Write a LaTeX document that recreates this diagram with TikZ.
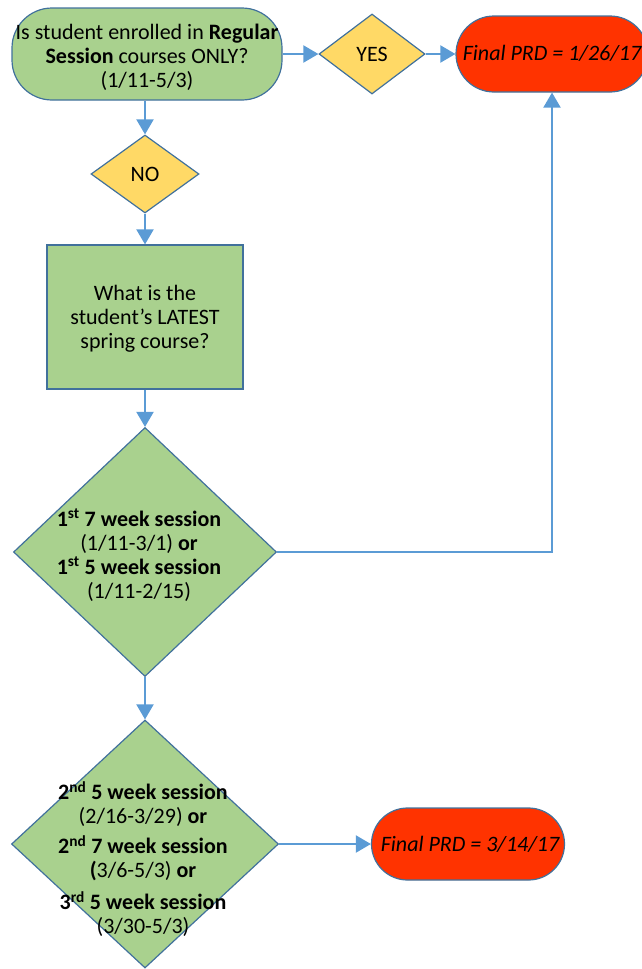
\documentclass[tikz,border=0pt]{standalone}
\usepackage{fontspec}
\setmainfont{Carlito}
\usetikzlibrary{shapes.geometric,arrows.meta}
\definecolor{gfill}{HTML}{A9D18E}
\definecolor{bline}{HTML}{41719C}
\definecolor{yfill}{HTML}{FFD966}
\definecolor{rfill}{HTML}{FF3300}
\definecolor{arr}{HTML}{5B9BD5}
\tikzset{
  base/.style={draw=bline, line width=1.2pt, inner sep=0pt},
  term/.style={base, rectangle, fill=gfill},
  redterm/.style={base, rectangle, fill=rfill},
  greenbox/.style={base, rectangle, fill=gfill},
  ydia/.style={base, diamond, fill=yfill},
  gdia/.style={base, diamond, fill=gfill},
  txt/.style={align=center, font=\fontsize{22}{24}\selectfont, inner sep=0pt},
  conn/.style={draw=arr, line width=2pt, -{Triangle[length=15pt,width=17pt]}}
}
\begin{document}
\begin{tikzpicture}[x=1pt,y=-1pt]
\useasboundingbox (0,0) rectangle (642,969);
% nodes
\node[term, rounded corners=40pt, minimum width=270pt, minimum height=92pt] (start) at (147,54) {};
\node[txt] (starttxt) at (147,57) {Is student enrolled in \textbf{Regular}\\\textbf{Session} courses ONLY?\\(1/11-5/3)};
\node[ydia, minimum width=106pt, minimum height=80pt] (yes) at (372,54) {};
\node[txt] (yestxt) at (372,54) {YES};
\node[redterm, rounded corners=38pt, minimum width=192pt, minimum height=76pt] (r1) at (552,54) {};
\node[txt, font=\fontsize{22}{24}\selectfont\itshape] (r1txt) at (552,53) {Final PRD = 1/26/17};
\node[ydia, minimum width=108pt, minimum height=78pt] (no) at (145,174) {};
\node[txt] (notxt) at (145,174) {NO};
\node[greenbox, minimum width=196pt, minimum height=144pt] (q) at (145,317) {};
\node[txt] (qtxt) at (145,319) {What is the\\student’s LATEST\\spring course?};
\node[gdia, minimum width=263pt, minimum height=249pt] (d1) at (145,552) {};
\node[txt] (d1txt) at (139,555) {\textbf{1\textsuperscript{st} 7 week session}\\(1/11-3/1) \textbf{or}\\\textbf{1\textsuperscript{st} 5 week session}\\(1/11-2/15)};
\node[gdia, minimum width=267pt, minimum height=248pt] (d2) at (145,844) {};
\node[txt] (d2txt) at (143,859) {\textbf{2\textsuperscript{nd} 5 week session}\\(2/16-3/29) \textbf{or}\\[6pt]\textbf{2\textsuperscript{nd} 7 week session}\\\textbf{(}3/6-5/3) \textbf{or}\\[8pt]\textbf{3\textsuperscript{rd} 5 week session}\\(3/30-5/3)};
\node[redterm, rounded corners=36pt, minimum width=193pt, minimum height=72pt] (r2) at (468,844) {};
\node[txt, font=\fontsize{22}{24}\selectfont\itshape] (r2txt) at (470,844) {Final PRD = 3/14/17};
% connectors
\draw[conn] (start.east) -- (yes.west);
\draw[conn] (yes.east) -- (r1.west);
\draw[conn] (start.south -| no.north) -- (no.north);
\draw[conn] (no.south) -- (q.north);
\draw[conn] (q.south) -- (d1.north);
\draw[conn] (d1.east) -| (r1.south);
\draw[conn] (d1.south) -- (d2.north);
\draw[conn] (d2.east) -- (r2.west);
\end{tikzpicture}
\end{document}
